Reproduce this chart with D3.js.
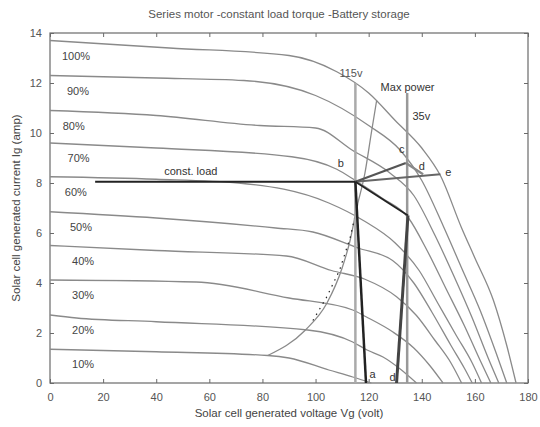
<!DOCTYPE html>
<html><head><meta charset="utf-8">
<script src="https://cdn.jsdelivr.net/npm/d3@7"></script>
<style>body{margin:0;background:#fff}svg{display:block}text{font-family:"Liberation Sans",Arial,sans-serif}</style>
</head><body>
<script>
// ---- data ----
const title = "Series motor -constant load torque -Battery storage";
const xLabel = "Solar cell generated voltage Vg (volt)";
const yLabel = "Solar cell generated current Ig (amp)";
const xTicks = [0,20,40,60,80,100,120,140,160,180];
const yTicks = [0,2,4,6,8,10,12,14];
const irradiance = ["100%","90%","80%","70%","60%","50%","40%","30%","20%","10%"];
const curve100 = [[0,13.7],[45,13.4],[90,13.1],[108,12.45],[120,11.6],[130,10.5],[140,9.4],[147,8.3],[155,6.2],[160,5.0],[167,3.3],[172,1.5],[175.5,0]];
const curve90  = [[0,12.3],[40,12.2],[73,12.1],[100,11.5],[120,10.3],[132,9.3],[140,8.1],[148,6.3],[155,4.6],[162,2.9],[168,1.2],[172,0]];
const curve80  = [[0,10.9],[40,10.7],[79,10.3],[100,10.2],[114,9.3],[128,8.4],[137,7.5],[145,5.9],[152,4.3],[159,2.6],[165,1.0],[169,0]];
const curve70  = [[0,9.6],[40,9.4],[91,9.05],[108,8.55],[115,8.1],[125,7.4],[135,6.6],[142,5.3],[149,3.8],[156,2.3],[162,0.9],[166,0]];
const curve60  = [[0,8.25],[40,8.15],[71,8.0],[105,7.2],[118,6.5],[130,5.6],[139,4.5],[146,3.2],[153,1.9],[159,0.8],[162.5,0]];
const curve50  = [[0,6.85],[40,6.6],[85,6.2],[99,6.04],[116,5.4],[129,4.9],[137,4.0],[144,2.8],[151,1.5],[156,0.6],[159,0]];
const curve40  = [[0,5.5],[40,5.3],[89,5.08],[106,4.5],[118.6,4.15],[130.5,3.45],[138,2.7],[145,1.7],[151,0.8],[155,0]];
const curve30  = [[0,4.12],[55,4.04],[90,3.4],[114,2.92],[119,2.65],[129,2.05],[137,1.4],[143,0.7],[148,0]];
const curve20  = [[0,2.72],[10,2.6],[40,2.45],[97,2.12],[114,1.64],[119.4,1.32],[125.4,1.04],[132,0.55],[138,0]];
const curve10  = [[0,1.35],[40,1.25],[82,1.1],[90,1.0],[105,0.52],[114,0.24],[121,0]];
const constLoad = [[17,8.05],[115,8.05]];
const maxPower = [[82,1.1],[96,2.1],[104.3,3.2],[110,4.6],[113,5.7],[115.5,7.0],[118.6,8.4],[121,10],[123,11.3]];
const dottedLocus = [[99,2.5],[104,3.4],[109,4.5],[113,5.8],[116,7.2]];
const v115 = [[115,0],[115,12.0]];
const v135 = [[134.5,0],[134.5,11.6]];
const pathBC = [[115,8.05],[134,8.8]];
const pathCD = [[134,8.8],[140.5,8.35]];
const pathBE = [[115,8.05],[147,8.35]];
const pathBF = [[115,8.05],[134.8,6.7]];
const dropA = [[115,8.05],[119,0]];
const dropD = [[134.8,6.7],[130.5,0]];
const pointLabels = [["b",109.5,8.8],["c",132.5,9.35],["d",140,8.7],["e",150,8.45],["a",121.5,0.35],["d",129,0.25]];

// ---- chart ----
const W=540,H=427;
const svg=d3.select("body").append("svg").attr("width",W).attr("height",H);
const x=d3.scaleLinear().domain([0,180]).range([50,528]);
const y=d3.scaleLinear().domain([0,14]).range([383,33]);
const line=d3.line().x(d=>x(d[0])).y(d=>y(d[1]));
const smooth=d3.line().x(d=>x(d[0])).y(d=>y(d[1])).curve(d3.curveMonotoneX);
const axCol="#6a6a6a", txtCol="#555";

// frame & ticks
svg.append("rect").attr("x",50).attr("y",33).attr("width",478).attr("height",350)
  .attr("fill","none").attr("stroke",axCol).attr("stroke-width",1.2);
const gx=svg.append("g").attr("transform","translate(0,383)")
  .call(d3.axisBottom(x).tickValues(xTicks).tickSize(-4).tickPadding(10));
const gxt=svg.append("g").attr("transform","translate(0,33)")
  .call(d3.axisTop(x).tickValues(xTicks).tickSize(-4).tickFormat(""));
const gy=svg.append("g").attr("transform","translate(50,0)")
  .call(d3.axisLeft(y).tickValues(yTicks).tickSize(-4).tickPadding(8));
const gyr=svg.append("g").attr("transform","translate(528,0)")
  .call(d3.axisRight(y).tickValues(yTicks).tickSize(-4).tickFormat(""));
[gx,gxt,gy,gyr].forEach(g=>{g.select(".domain").remove();
  g.selectAll("line").attr("stroke",axCol);
  g.selectAll("text").attr("fill",txtCol).style("font-size","11px").style("font-family","Liberation Sans, Arial, sans-serif");});

// I-V curves
const curves=[curve100,curve90,curve80,curve70,curve60,curve50,curve40,curve30,curve20,curve10];
svg.append("g").selectAll("path").data(curves).join("path")
  .attr("d",smooth).attr("fill","none").attr("stroke","#8a8a8a").attr("stroke-width",1.3);

// percent labels
const labX=[4.5,6.4,4.8,6.6,5.6,7.5,8.3,8.3,8.3,8.3];
svg.append("g").selectAll("text").data(irradiance).join("text")
  .attr("x",(d,i)=>x(labX[i])).attr("y",(d,i)=>y(curves[i][0][1])+19)
  .attr("fill","#444").style("font-size","11px").text(d=>d);

// locus lines
svg.append("path").attr("d",smooth(maxPower)).attr("fill","none").attr("stroke","#8a8a8a").attr("stroke-width",1.3);
svg.append("path").attr("d",line(dottedLocus)).attr("fill","none").attr("stroke","#222").attr("stroke-width",1.2).attr("stroke-dasharray","1.5,5");
svg.append("path").attr("d",line(v115)).attr("fill","none").attr("stroke","#aaa").attr("stroke-width",2.5);
svg.append("path").attr("d",line(v135)).attr("fill","none").attr("stroke","#999").attr("stroke-width",2.5);

// operating paths
svg.append("path").attr("d",line(constLoad)).attr("fill","none").attr("stroke","#222").attr("stroke-width",2.2);
svg.append("path").attr("d",line(pathBE)).attr("fill","none").attr("stroke","#666").attr("stroke-width",1.8);
svg.append("path").attr("d",line(pathBC)).attr("fill","none").attr("stroke","#555").attr("stroke-width",2.2);
svg.append("path").attr("d",line(pathCD)).attr("fill","none").attr("stroke","#888").attr("stroke-width",2.2);
svg.append("path").attr("d",line(pathBF)).attr("fill","none").attr("stroke","#222").attr("stroke-width",1.8);
svg.append("path").attr("d",line(dropA)).attr("fill","none").attr("stroke","#222").attr("stroke-width",2.5);
svg.append("path").attr("d",line(dropD)).attr("fill","none").attr("stroke","#444").attr("stroke-width",3);

// annotations
svg.append("g").selectAll("text").data(pointLabels).join("text")
  .attr("x",d=>x(d[1])).attr("y",d=>y(d[2])+4).attr("text-anchor","middle")
  .attr("fill","#333").style("font-size","11px").text(d=>d[0]);
svg.append("text").attr("x",x(43)).attr("y",y(8.5)+4).attr("fill","#333").style("font-size","11px").text("const. load");
svg.append("text").attr("x",x(109)).attr("y",y(12.4)+4).attr("fill","#555").style("font-size","11px").text("115v");
svg.append("text").attr("x",x(124.5)).attr("y",y(11.85)+4).attr("fill","#333").style("font-size","11px").text("Max power");
svg.append("text").attr("x",x(136.5)).attr("y",y(10.7)+4).attr("fill","#333").style("font-size","11px").text("35v");

// titles
svg.append("text").attr("x",279).attr("y",18).attr("text-anchor","middle").attr("fill","#555").style("font-size","11.5px").text(title);
svg.append("text").attr("x",289).attr("y",417).attr("text-anchor","middle").attr("fill","#444").style("font-size","11.5px").text(xLabel);
svg.append("text").attr("transform","translate(20,208) rotate(-90)").attr("text-anchor","middle").attr("fill","#444").style("font-size","11.5px").text(yLabel);
</script>
</body></html>
